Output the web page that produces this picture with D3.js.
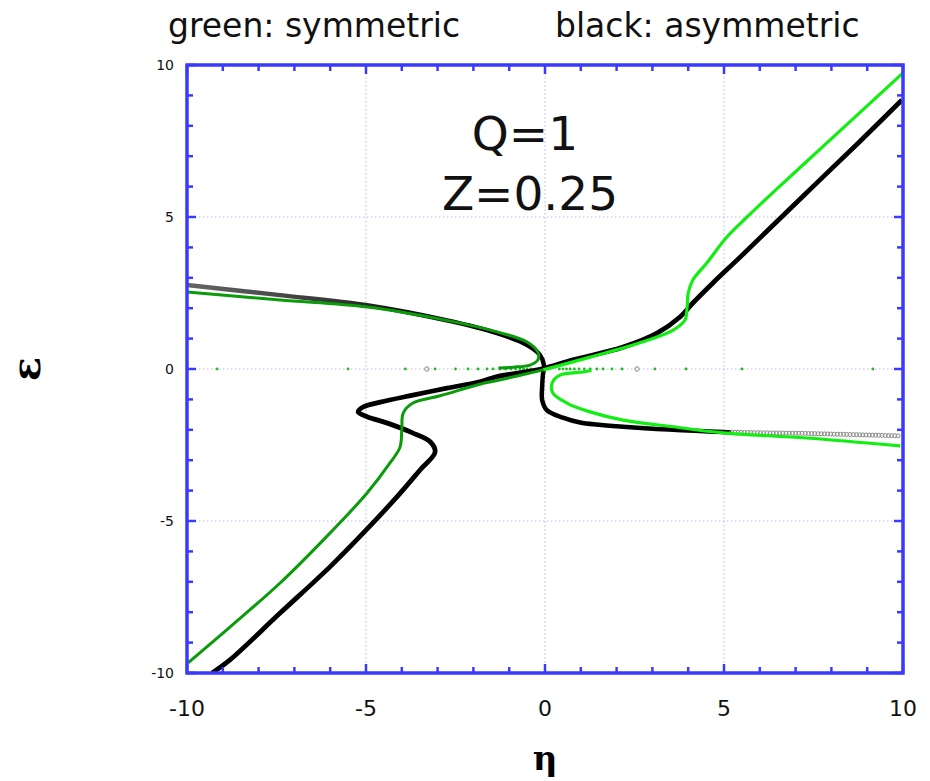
<!DOCTYPE html>
<html>
<head>
<meta charset="utf-8">
<script src="https://cdn.jsdelivr.net/npm/d3@7"></script>
<style>
  html, body { margin: 0; padding: 0; background: #fff; }
  svg { display: block; }
</style>
</head>
<body>
<svg id="chart" width="930" height="781"></svg>
<script>
// ---------- DATA (η, ε) ----------
const xTicks = [-10, -5, 0, 5, 10];
const yTicks = [-10, -5, 0, 5, 10];
const gridVals = [-5, 0, 5];

// asymmetric (black) main branch
const blackMain = [
  [-9.3,-10],[-8.8,-9.57],[-7.4,-8.03],[-6.0,-6.5],[-5.08,-5.4],[-4.13,-4.2],[-3.49,-3.32],
  [-3.07,-2.73],[-3.2,-2.4],[-3.7,-2.1],[-4.4,-1.78],[-4.97,-1.57],[-5.22,-1.41],[-5.08,-1.25],
  [-4.6,-1.09],[-3.69,-0.86],[-2.74,-0.63],[-1.82,-0.42],[-1.34,-0.25],[-0.1,0.0],[0.78,0.3],
  [2.18,0.72],[3.13,1.18],[3.77,1.71],[4.13,2.17],[4.69,2.83],[5.45,3.68],[6.37,4.73],
  [7.6,6.13],[8.8,7.49],[9.97,8.85]
];
// asymmetric (black) upper-left / lower-right branch
const blackSide = [
  [-10,2.76],[-7.4,2.43],[-4.97,2.1],[-2.74,1.6],[-1.34,1.18],[-0.5,0.79],[-0.14,0.46],
  [-0.03,0.13],[-0.06,-0.2],[-0.08,-0.6],[-0.08,-1.02],[0.05,-1.35],[0.5,-1.6],[0.98,-1.76],
  [2.18,-1.9],[4.97,-2.07],[7.3,-2.12],[9.92,-2.2]
];
// symmetric (green) main branch, left half (dark green) and right half (bright green)
const greenMainLeft = [
  [-9.97,-9.67],[-8.8,-8.49],[-7.4,-7.04],[-6.0,-5.39],[-4.97,-4.08],[-4.33,-3.09],[-4.05,-2.57],
  [-4.0,-2.0],[-3.96,-1.45],[-3.69,-1.12],[-2.93,-0.88],[-1.82,-0.5],[-1.34,-0.38],[-0.05,-0.03]
];
const greenMainRight = [
  [-0.05,-0.03],[0.98,0.3],[1.26,0.39],[2.65,0.86],[3.58,1.28],[3.91,1.61],[3.97,2.04],[4.0,2.5],
  [4.13,2.93],[4.52,3.49],[5.08,4.34],[5.6,4.95],[6.5,5.95],[7.7,7.25],[8.9,8.55],[10,9.74]
];
// symmetric (green) side branches
const greenSideLeft = [
  [-10,2.53],[-7.4,2.27],[-4.97,2.04],[-2.74,1.6],[-1.34,1.22],[-0.5,0.89],[-0.2,0.56],
  [-0.2,0.3],[-0.42,0.13],[-0.89,0.06],[-1.3,0.03]
];
const greenSideRight = [
  [1.3,-0.05],[1.06,-0.1],[0.42,-0.2],[0.2,-0.46],[0.22,-0.79],[0.61,-1.12],[1.26,-1.41],
  [2.18,-1.68],[3.58,-1.9],[4.97,-2.1],[7.3,-2.27],[9.92,-2.53]
];
// points lying on ε = 0
const zeroDotsEta = [
  -9.16,-5.5,-3.9,-3.07,-2.5,-2.15,-1.87,-1.62,-1.45,-1.26,-1.1,-0.95,-0.82,-0.7,-0.6,-0.5,-0.4,
  0.4,0.5,0.6,0.7,0.82,0.95,1.1,1.26,1.45,1.62,1.87,2.15,3.07,3.94,5.5,9.16
];
const zeroCirclesEta = [-3.3, 2.57];

// ---------- LAYOUT ----------
const svg = d3.select("#chart");
const L = 187, R = 903, T = 65, B = 673;
const x = d3.scaleLinear().domain([-10, 10]).range([L, R]);
const y = d3.scaleLinear().domain([-10, 10]).range([B, T]);
const blue = "#3a3aff";

// grid
const grid = svg.append("g").attr("stroke", "#b4b4ff").attr("stroke-width", 1)
  .attr("stroke-dasharray", "1.5,2.5");
grid.selectAll("line.gx").data(gridVals).join("line")
  .attr("x1", d => x(d)).attr("x2", d => x(d)).attr("y1", T).attr("y2", B);
grid.selectAll("line.gy").data(gridVals).join("line")
  .attr("y1", d => y(d)).attr("y2", d => y(d)).attr("x1", L).attr("x2", R);

// clip
svg.append("clipPath").attr("id", "plotclip").append("rect")
  .attr("x", L).attr("y", T).attr("width", R - L).attr("height", B - T);
svg.append("clipPath").attr("id", "leftclip").append("rect")
  .attr("x", 0).attr("y", 0).attr("width", x(5.2)).attr("height", 781);

const line = d3.line().x(d => x(d[0])).y(d => y(d[1])).curve(d3.curveCatmullRom.alpha(0.5));
const plot = svg.append("g").attr("clip-path", "url(#plotclip)");

// gradient for black side branch (grey left end)
const defs = svg.append("defs");
const grad = defs.append("linearGradient").attr("id", "sidegrad")
  .attr("gradientUnits", "userSpaceOnUse").attr("x1", x(-10)).attr("x2", x(10)).attr("y1", 0).attr("y2", 0);
grad.append("stop").attr("offset", "0%").attr("stop-color", "#666");
grad.append("stop").attr("offset", "22%").attr("stop-color", "#333");
grad.append("stop").attr("offset", "35%").attr("stop-color", "#000");
grad.append("stop").attr("offset", "100%").attr("stop-color", "#000");

// zero-line dots
plot.selectAll("circle.zd").data(zeroDotsEta).join("circle")
  .attr("cx", d => x(d)).attr("cy", y(0)).attr("r", 1.4).attr("fill", "#22bb22");
plot.selectAll("circle.zc").data(zeroCirclesEta).join("circle")
  .attr("cx", d => x(d)).attr("cy", y(0)).attr("r", 2.2).attr("fill", "none")
  .attr("stroke", "#888").attr("stroke-width", 1);

// black side branch: solid part
plot.append("path").datum(blackSide).attr("d", line).attr("fill", "none")
  .attr("stroke", "url(#sidegrad)").attr("stroke-width", 4.5).attr("clip-path", "url(#leftclip)");
// black side branch: right tail drawn as open circles
const hidden = svg.append("path").datum(blackSide).attr("d", line).attr("fill", "none").attr("stroke", "none");
const node = hidden.node();
const total = node.getTotalLength();
const tail = [];
for (let s = 0; s <= total; s += 3.2) {
  const p = node.getPointAtLength(s);
  if (p.x >= x(5.2)) tail.push(p);
}
plot.selectAll("circle.tail").data(tail).join("circle")
  .attr("cx", d => d.x).attr("cy", d => d.y).attr("r", 2).attr("fill", "none")
  .attr("stroke", "#8a8a8a").attr("stroke-width", 1);

// green branches
plot.append("path").datum(greenSideLeft).attr("d", line).attr("fill", "none")
  .attr("stroke", "#0a9a0a").attr("stroke-width", 3);
plot.append("path").datum(greenSideRight).attr("d", line).attr("fill", "none")
  .attr("stroke", "#11ee11").attr("stroke-width", 3.2);

// black main
plot.append("path").datum(blackMain).attr("d", line).attr("fill", "none")
  .attr("stroke", "#000").attr("stroke-width", 4.8);

// green main
plot.append("path").datum(greenMainLeft).attr("d", line).attr("fill", "none")
  .attr("stroke", "#0a9a0a").attr("stroke-width", 3);
plot.append("path").datum(greenMainRight).attr("d", line).attr("fill", "none")
  .attr("stroke", "#11ee11").attr("stroke-width", 3.2);

// ---------- AXES FRAME + TICKS ----------
const minor = d3.range(-10, 11, 1);
const ax = svg.append("g").attr("stroke", blue).attr("stroke-width", 2.5);
const tickLen = d => (d % 5 === 0 ? 9 : 6);
ax.selectAll("line.bt").data(minor).join("line")
  .attr("x1", d => x(d)).attr("x2", d => x(d)).attr("y1", B).attr("y2", d => B - tickLen(d));
ax.selectAll("line.tt").data(minor).join("line")
  .attr("x1", d => x(d)).attr("x2", d => x(d)).attr("y1", T).attr("y2", d => T + tickLen(d));
ax.selectAll("line.lt").data(minor).join("line")
  .attr("y1", d => y(d)).attr("y2", d => y(d)).attr("x1", L).attr("x2", d => L + tickLen(d));
ax.selectAll("line.rt").data(minor).join("line")
  .attr("y1", d => y(d)).attr("y2", d => y(d)).attr("x1", R).attr("x2", d => R - tickLen(d));
svg.append("rect").attr("x", L).attr("y", T).attr("width", R - L).attr("height", B - T)
  .attr("fill", "none").attr("stroke", blue).attr("stroke-width", 3.5);

// tick labels
const font = "'DejaVu Sans', Verdana, sans-serif";
svg.selectAll("text.xt").data(xTicks).join("text")
  .attr("x", d => x(d)).attr("y", 716).attr("text-anchor", "middle")
  .attr("font-family", font).attr("font-size", 22).attr("fill", "#111").text(d => d);
svg.selectAll("text.yt").data(yTicks).join("text")
  .attr("x", 174).attr("y", d => y(d) + 5).attr("text-anchor", "end")
  .attr("font-family", font).attr("font-size", 14).attr("fill", "#111").text(d => d);

// axis titles
svg.append("text").attr("x", 545).attr("y", 770).attr("text-anchor", "middle")
  .attr("font-family", "'DejaVu Serif', 'Liberation Serif', serif").attr("font-weight", "bold")
  .attr("font-size", 34).text("η");
svg.append("text").attr("transform", "translate(40,369) rotate(-90)").attr("text-anchor", "middle")
  .attr("font-family", "'DejaVu Serif', 'Liberation Serif', serif").attr("font-weight", "bold")
  .attr("font-size", 40).text("ε");

// title
svg.append("text").attr("x", 168).attr("y", 37).attr("font-family", font)
  .attr("font-size", 33).attr("fill", "#111").text("green: symmetric");
svg.append("text").attr("x", 555).attr("y", 37).attr("font-family", font)
  .attr("font-size", 33).attr("fill", "#111").text("black: asymmetric");

// annotation
svg.append("text").attr("x", 525).attr("y", 150).attr("text-anchor", "middle")
  .attr("font-family", font).attr("font-size", 47).attr("fill", "#111").text("Q=1");
svg.append("text").attr("x", 530).attr("y", 210).attr("text-anchor", "middle")
  .attr("font-family", font).attr("font-size", 47).attr("fill", "#111").text("Z=0.25");
</script>
</body>
</html>
